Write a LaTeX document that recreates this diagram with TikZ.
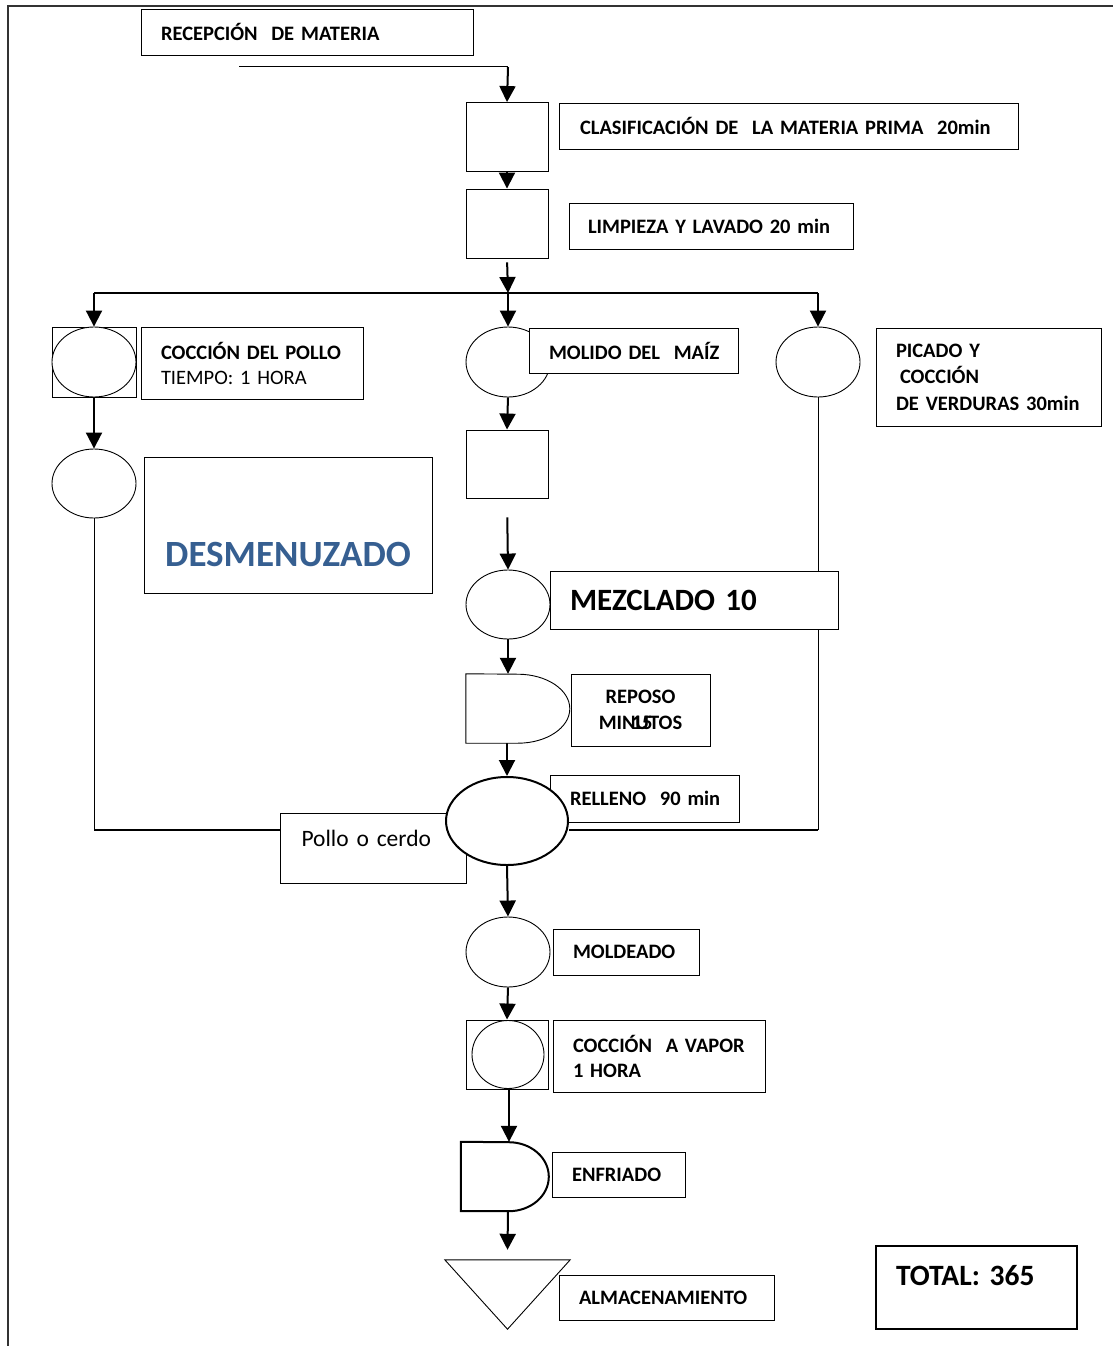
\documentclass[tikz,border=0pt]{standalone}
\usepackage{fontspec}
\setmainfont{Carlito}
\usetikzlibrary{shapes.geometric,arrows.meta}
\pgfdeclarelayer{background}
\pgfsetlayers{background,main}
\definecolor{titleblue}{HTML}{365F91}
\begin{document}
\begin{tikzpicture}[x=1pt,y=-1pt,
  fbold/.style={font=\bfseries\fontsize{20.5}{25}\selectfont},
  box/.style={draw, line width=0.9pt, fill=white, rectangle, inner xsep=20pt,
    inner ysep=0pt, align=left, fbold},
  oval/.style={draw, line width=0.9pt, fill=white, ellipse, inner sep=0pt,
    minimum width=84pt, minimum height=70pt},
  sq/.style={draw, line width=0.9pt, fill=white, rectangle, inner sep=0pt,
    minimum width=82pt, minimum height=69pt},
  frame/.style={draw=none, rectangle, inner sep=0pt},
  arr/.style={line width=2pt, -{Triangle[width=16pt,length=16pt]}},
  link/.style={line width=1pt},
  heavy link/.style={line width=2.2pt},
]
\useasboundingbox (0,0) rectangle (1113,1346);

% page frame
\draw[line width=1.4pt, black!80] (1113,6) -- (8,6) -- (8,1346);

% ---------- reception and first steps ----------
\node[box, text width=292pt, minimum height=46pt] (rec) at (307,32) {RECEPCIÓN\ \ DE MATERIA};
\node[sq] (clas) at (507,137) {};
\node[box, text width=417pt, minimum height=46pt, inner xsep=21pt] (clasL) at (788.5,126)
  {\mbox{CLASIFICACIÓN DE\ \ LA MATERIA PRIMA\ \ 20min}};
\node[sq] (limp) at (507,223.5) {};
\node[box, text width=246pt, minimum height=46pt, inner xsep=19pt] (limpL) at (711,226)
  {\mbox{LIMPIEZA Y LAVADO 20 min}};

\coordinate (recStart) at (239,67);
\coordinate (recTurn) at (508,67);
\coordinate (split) at (508,293);
\coordinate (splitL) at (94,293);
\coordinate (splitR) at (818,293);

% ---------- left branch: chicken ----------
\node[sq, minimum width=84pt, minimum height=70pt] (cocSq) at (94,362) {};
\node[oval] (cocE) at (94,362) {};
\node[box, text width=182pt, minimum height=72pt, font=\fontsize{20.5}{25}\selectfont]
  (cocL) at (252,363) {\mbox{\textbf{COCCIÓN DEL POLLO}}\\TIEMPO: 1 HORA};
\node[oval, minimum height=69pt] (desE) at (94,483.5) {};
\node[draw, line width=0.9pt, fill=white, rectangle, inner sep=0pt, minimum width=288pt,
  text height=109pt, text depth=27pt, text=titleblue,
  font=\bfseries\fontsize{37}{42}\selectfont] (desL) at (288,525) {DESMENUZADO};

% ---------- centre branch: corn ----------
\node[oval] (molE) at (508,362) {};
\node[box, text width=169pt, minimum height=45pt] (molL) at (633.5,350.5) {\mbox{MOLIDO DEL\ \ MAÍZ}};
\node[sq, minimum height=68pt] (molSq) at (507,464) {};
\node[oval, minimum height=69pt] (mezE) at (508,604.5) {};

% ---------- right branch: vegetables ----------
\node[oval] (picE) at (818,362) {};
\node[box, text width=185pt, minimum height=98pt, font=\bfseries\fontsize{20.5}{26.5}\selectfont]
  (picL) at (988.5,377) {PICADO Y\\\hspace{4pt}COCCIÓN\\\mbox{DE VERDURAS 30min}};

% ---------- joining lines (under the boxes) ----------
\coordinate (joinL) at (94,830);
\coordinate (joinR) at (818,830);

\node[box, text width=248pt, minimum height=58pt, font=\bfseries\fontsize{31}{36}\selectfont]
  (mezL) at (694,600) {MEZCLADO 10};

% resting (delay) step
\node[frame, minimum width=104pt, minimum height=69pt] (rep) at (518,708.5) {};
\draw[line width=0.9pt, fill=white] (rep.north west) -- (rep.south west) -- ++(52,0)
  arc[start angle=90, end angle=-90, x radius=52, y radius=34.5] -- cycle;
\node[box, text width=139pt, minimum height=72pt, inner xsep=0pt, align=center,
  font=\bfseries\fontsize{20.5}{26}\selectfont] (repL) at (640.5,710)
  {REPOSO\\MIN\rlap{\kern-4pt 15}UTOS};

% filling step
\node[box, text width=149pt, minimum height=47pt] (relL) at (644.5,798.5) {\mbox{RELLENO\ \ 90 min}};
\node[draw, line width=0.9pt, fill=white, rectangle, inner xsep=21pt, inner ysep=0pt,
  text width=144pt, align=left, text height=33pt, text depth=37pt,
  font=\fontsize{23.5}{27}\selectfont] (pollo) at (373.5,848) {\mbox{Pollo o cerdo}};
\node[oval, line width=2pt, minimum width=122pt, minimum height=88pt] (relE) at (507,821) {};

% ---------- final steps ----------
\node[oval] (moldE) at (508,952) {};
\node[box, text width=106pt, minimum height=46pt] (moldL) at (626,952) {MOLDEADO};
\node[sq] (vapSq) at (507,1054.5) {};
\node[oval, minimum width=72pt, minimum height=68pt] (vapE) at (508,1054.5) {};
\node[box, text width=172pt, minimum height=72pt]
  (vapL) at (659,1056) {\mbox{COCCIÓN\ \ A VAPOR}\\1 HORA};

\node[frame, minimum width=88pt, minimum height=69pt] (enf) at (505,1176.5) {};
\draw[line width=2pt, fill=white] (enf.north west) -- (enf.south west) -- ++(48,0)
  arc[start angle=90, end angle=-90, x radius=40, y radius=34.5] -- cycle;
\node[box, text width=93pt, minimum height=45pt] (enfL) at (618.5,1174.5) {ENFRIADO};

\node[frame, minimum width=125pt, minimum height=69pt] (alm) at (507.5,1294.5) {};
\draw[line width=0.9pt, fill=white] (alm.north west) -- (alm.north east) -- (alm.south) -- cycle;
\node[box, text width=175pt, minimum height=45pt] (almL) at (666.5,1297.5) {\mbox{ALMACENAMIENTO}};

\node[draw, line width=2pt, fill=white, rectangle, inner xsep=20pt, inner ysep=0pt,
  text width=161pt, align=left, text height=39pt, text depth=44pt,
  font=\bfseries\fontsize{29.5}{34}\selectfont] (total) at (976.5,1287.5) {TOTAL: 365};

% ---------- connectors ----------
\begin{pgfonlayer}{background}
  \draw[link] (recStart) -- (recTurn);
  \draw[arr] (recTurn) -- (clas.north);
  \draw[arr] (clas.south) -- (limp.north);
  \draw[arr, shorten <=4pt] (limp.south) -- (split);
  \draw[link, line width=1.4pt] (splitL) -- (splitR);
  \draw[arr] (splitL) -- (cocSq.north);
  \draw[arr] (split) -- (molE.north);
  \draw[arr] (splitR) -- (picE.north);
  \draw[arr] (cocSq.south) -- (desE.north);
  \draw[arr] (molE.south) -- (molSq.north);
  \draw[arr, shorten <=19pt] (molSq.south) -- (mezE.north);
  \draw[arr] (mezE.south) -- (rep.north -| mezE.south);
  \draw[arr] (rep.south -| relE.north) -- (relE.north);
  \draw[link] (desE.south) -- (joinL);
  \draw[heavy link] (joinL) -- (pollo.west |- joinL);
  \draw[link] (picE.south) -- (joinR);
  \draw[heavy link] (joinR) -- (relE.east |- joinR);
  \draw[arr] (relE.south) -- (moldE.north);
  \draw[arr] (moldE.south) -- (vapSq.north);
  \draw[arr] ([xshift=4pt]enf.north |- vapSq.south) -- ([xshift=4pt]enf.north);
  \draw[arr] ([xshift=3pt]enf.south) -- ([yshift=10pt]alm.north);
\end{pgfonlayer}
\end{tikzpicture}
\end{document}
